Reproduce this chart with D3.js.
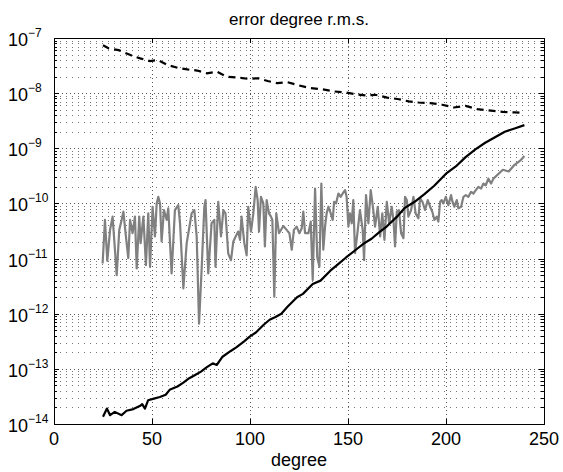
<!DOCTYPE html>
<html>
<head>
<meta charset="utf-8">
<script src="https://cdn.jsdelivr.net/npm/d3@7"></script>
<style>
  body { margin: 0; background: #fff; }
  svg { font-family: "Liberation Sans", Arial, sans-serif; }
</style>
</head>
<body>
<div id="chart"></div>
<script>
// axis ticks
var xTicks = [0, 50, 100, 150, 200, 250];
var yDecades = [-14, -13, -12, -11, -10, -9, -8, -7];

// series: degree and log10 of the r.m.s. error
var dashDeg = [25,28,33,39,44,49,53,58,63,68,73,78,83,88,94,99,104,109,114,119,125,131,137,143,149,154,159,164,170,176,181,186,192,198,204,210,216,221,229,235,240];
var dashExp = [-7.13,-7.19,-7.22,-7.31,-7.37,-7.42,-7.40,-7.49,-7.54,-7.57,-7.59,-7.64,-7.61,-7.70,-7.72,-7.74,-7.73,-7.78,-7.82,-7.80,-7.86,-7.91,-7.93,-7.97,-7.99,-8.02,-8.04,-8.03,-8.08,-8.11,-8.15,-8.17,-8.18,-8.21,-8.26,-8.23,-8.29,-8.31,-8.34,-8.35,-8.36];

var solidDeg = [25,27,28.6,31,34.5,37,40.5,44,45,46.4,48,51,54,57,59,63,66,69,72,75,78,81,83,86,90,93,97,100,103,107,110,113,116,119,124,127,132,136,141,145,149,154,158,162,166,170,175,179,184,189,194,200,205,210,215,220,225,230,235,240];
var solidExp = [-13.87,-13.72,-13.84,-13.78,-13.84,-13.76,-13.73,-13.67,-13.64,-13.72,-13.57,-13.54,-13.51,-13.47,-13.38,-13.32,-13.25,-13.17,-13.11,-13.05,-12.97,-12.90,-12.93,-12.78,-12.68,-12.61,-12.50,-12.41,-12.34,-12.20,-12.11,-12.06,-12.00,-11.88,-11.70,-11.64,-11.46,-11.40,-11.22,-11.10,-10.98,-10.84,-10.73,-10.64,-10.52,-10.41,-10.24,-10.08,-9.97,-9.83,-9.68,-9.46,-9.33,-9.16,-9.02,-8.90,-8.80,-8.70,-8.64,-8.58];

var grayDeg = [24.8,26.0,27.2,28.6,29.9,32.0,33.3,34.5,35.4,36.7,37.9,38.8,40.1,41.3,42.2,43.5,44.2,45.6,46.9,48.1,49.0,50.3,51.5,52.4,53.2,54.1,54.9,56.1,57.5,58.3,60.0,61.7,63.4,64.3,66.0,67.7,69.4,
  70.2,71.6,72.8,74.0,75.3,76.7,77.3,78.7,80.4,81.8,82.4,83.8,85.2,86.4,87.5,88.9,90.3,91.5,92.7,94.0,94.9,95.7,97.1,98.3,99.1,100.5,101.7,102.9,103.9,104.6,105.6,106.8,107.6,108.5,109.7,110.7,111.4,112.4,113.4,114.8,
  117.0,118.7,120.1,121.3,122.4,123.8,125.2,126.4,127.2,128.1,129.8,131.0,132.0,133.2,134.3,135.4,136.4,137.4,138.3,139.1,140.0,141.2,142.2,142.9,143.9,145.1,146.3,147.3,148.5,149.3,150.2,151.0,151.9,152.7,153.6,154.8,156.1,157.5,158.2,159.2,160.4,161.6,162.9,
  163.8,165.2,166.4,167.5,168.6,169.8,171.0,172.3,173.2,174.0,174.9,176.0,177.1,178.3,179.1,180.0,180.8,182.2,183.4,184.5,185.9,186.8,188.0,189.3,190.7,191.9,193.0,194.1,195.3,196.1,197.0,197.8,198.7,199.9,201.2,202.6,203.3,204.3,205.5,206.3,207.7,208.9,210.1,211.4,212.8,214.0,215.2,216.5,217.9,219.1,220.3,221.6,223.0,224.2,
  229,232,235,238,240];
var grayExp = [-11.09,-10.30,-11.04,-10.48,-10.24,-11.30,-10.48,-10.30,-10.15,-10.60,-10.99,-10.30,-10.54,-10.24,-11.18,-10.24,-10.72,-10.24,-11.12,-10.18,-11.15,-10.06,-10.60,-10.00,-9.88,-10.00,-10.69,-10.12,-10.30,-10.09,-11.27,-10.12,-10.03,-10.36,-11.54,-10.72,-10.36,
  -10.18,-10.12,-10.60,-12.18,-11.21,-10.06,-9.94,-11.27,-10.36,-10.30,-11.15,-9.97,-10.60,-10.12,-10.18,-10.91,-11.03,-10.69,-10.60,-10.51,-10.66,-10.24,-10.72,-10.94,-10.06,-10.51,-10.18,-9.70,-9.94,-10.51,-9.88,-10.00,-10.78,-9.94,-10.18,-10.24,-10.30,-11.69,-10.18,-10.54,
  -10.41,-10.48,-10.54,-10.84,-10.48,-10.42,-10.54,-10.45,-10.15,-10.54,-10.54,-10.33,-11.39,-9.73,-10.97,-11.15,-9.64,-10.84,-10.42,-10.18,-10.06,-10.18,-10.30,-9.97,-10.00,-9.82,-9.88,-9.82,-9.76,-9.88,-10.42,-10.18,-10.36,-9.94,-10.90,-10.54,-10.12,-10.48,-11.03,-9.85,-10.36,-9.76,-10.12,
  -10.42,-10.06,-10.60,-10.18,-10.66,-9.97,-10.36,-10.06,-10.30,-10.78,-10.15,-10.12,-10.54,-10.63,-9.88,-9.94,-10.24,-10.12,-9.88,-10.18,-10.27,-9.91,-9.97,-10.12,-9.94,-10.06,-10.15,-10.30,-10.24,-10.33,-9.97,-9.94,-10.00,-9.88,-10.03,-9.85,-9.97,-10.06,-9.94,-10.09,-10.06,-9.88,-9.85,-9.88,-9.79,-9.82,-9.76,-9.70,-9.73,-9.64,-9.67,-9.55,-9.64,-9.55,
  -9.39,-9.42,-9.30,-9.22,-9.14];

var width = 563, height = 472;
var m = {top: 38, right: 19, bottom: 48, left: 54};

var x = d3.scaleLinear().domain([0, 250]).range([m.left, width - m.right]);
var y = d3.scaleLog().domain([1e-14, 1e-7]).range([height - m.bottom, m.top]);

var svg = d3.select("#chart").append("svg")
  .attr("width", width)
  .attr("height", height);

svg.append("defs").append("clipPath")
  .attr("id", "clip")
  .append("rect")
  .attr("x", m.left).attr("y", m.top)
  .attr("width", x.range()[1] - m.left)
  .attr("height", y.range()[0] - m.top);

// minor and major log values for grid / ticks
var minorVals = [];
yDecades.slice(0, -1).forEach(function(k) {
  for (var i = 2; i <= 9; i++) minorVals.push(i * Math.pow(10, k));
});
var majorVals = yDecades.map(function(k) { return Math.pow(10, k); });

var grid = svg.append("g").attr("class", "grid");

grid.selectAll(".minor")
  .data(minorVals)
  .enter().append("line")
  .attr("x1", m.left).attr("x2", x.range()[1])
  .attr("y1", function(d) { return Math.round(y(d)) + 0.5; })
  .attr("y2", function(d) { return Math.round(y(d)) + 0.5; })
  .attr("stroke", "#777")
  .attr("stroke-dasharray", "1,5");

grid.selectAll(".major")
  .data(majorVals.slice(1, -1))
  .enter().append("line")
  .attr("x1", m.left).attr("x2", x.range()[1])
  .attr("y1", function(d) { return Math.round(y(d)) + 0.5; })
  .attr("y2", function(d) { return Math.round(y(d)) + 0.5; })
  .attr("stroke", "#555")
  .attr("stroke-dasharray", "1,3");

grid.selectAll(".vgrid")
  .data(xTicks.slice(1, -1))
  .enter().append("line")
  .attr("x1", function(d) { return Math.round(x(d)) + 0.5; })
  .attr("x2", function(d) { return Math.round(x(d)) + 0.5; })
  .attr("y1", m.top).attr("y2", y.range()[0])
  .attr("stroke", "#555")
  .attr("stroke-dasharray", "1,3");

// series
function pts(deg, ex) {
  return deg.map(function(d, i) { return [d, Math.pow(10, ex[i])]; });
}
var line = d3.line()
  .x(function(d) { return x(d[0]); })
  .y(function(d) { return y(d[1]); });

var plot = svg.append("g").attr("clip-path", "url(#clip)");

plot.append("path")
  .datum(pts(grayDeg, grayExp))
  .attr("d", line)
  .attr("fill", "none")
  .attr("stroke", "#808080")
  .attr("stroke-width", 2.2)
  .attr("stroke-linejoin", "round");

plot.append("path")
  .datum(pts(solidDeg, solidExp))
  .attr("d", line)
  .attr("fill", "none")
  .attr("stroke", "#000")
  .attr("stroke-width", 2.2)
  .attr("stroke-linejoin", "round");

plot.append("path")
  .datum(pts(dashDeg, dashExp))
  .attr("d", line)
  .attr("fill", "none")
  .attr("stroke", "#000")
  .attr("stroke-width", 2.2)
  .attr("stroke-dasharray", "7,5");

// box with inward ticks on all sides
var x0 = m.left, x1 = x.range()[1], yTop = m.top, yBot = y.range()[0];
var box = svg.append("g").attr("stroke", "#000").attr("stroke-width", 1);

box.append("rect")
  .attr("x", x0 + 0.5).attr("y", yTop + 0.5)
  .attr("width", x1 - x0).attr("height", yBot - yTop)
  .attr("fill", "none");

box.selectAll(".xt")
  .data(xTicks)
  .enter().append("path")
  .attr("d", function(d) {
    var px = Math.round(x(d)) + 0.5;
    return "M" + px + "," + yBot + "v-5M" + px + "," + yTop + "v5";
  });

box.selectAll(".yt")
  .data(majorVals)
  .enter().append("path")
  .attr("d", function(d) {
    var py = Math.round(y(d)) + 0.5;
    return "M" + x0 + "," + py + "h5M" + x1 + "," + py + "h-5";
  });

box.selectAll(".ym")
  .data(minorVals)
  .enter().append("path")
  .attr("d", function(d) {
    var py = Math.round(y(d)) + 0.5;
    return "M" + x0 + "," + py + "h3M" + x1 + "," + py + "h-3";
  });

// tick labels
svg.append("g")
  .selectAll("text")
  .data(xTicks)
  .enter().append("text")
  .attr("x", function(d) { return x(d); })
  .attr("y", yBot + 21)
  .attr("text-anchor", "middle")
  .attr("font-size", 18)
  .text(function(d) { return d; });

var yl = svg.append("g")
  .selectAll("text")
  .data(yDecades)
  .enter().append("text")
  .attr("x", 8)
  .attr("y", function(d) { return y(Math.pow(10, d)) + 8; })
  .attr("font-size", 18);
yl.append("tspan").text("10");
yl.append("tspan")
  .attr("dy", -9)
  .attr("font-size", 12)
  .text(function(d) { return "\u2212" + (-d); });

svg.append("text")
  .attr("x", (x0 + x1) / 2)
  .attr("y", 25)
  .attr("text-anchor", "middle")
  .attr("font-size", 17)
  .text("error degree r.m.s.");

svg.append("text")
  .attr("x", (x0 + x1) / 2)
  .attr("y", 466)
  .attr("text-anchor", "middle")
  .attr("font-size", 18)
  .text("degree");
</script>
</body>
</html>
